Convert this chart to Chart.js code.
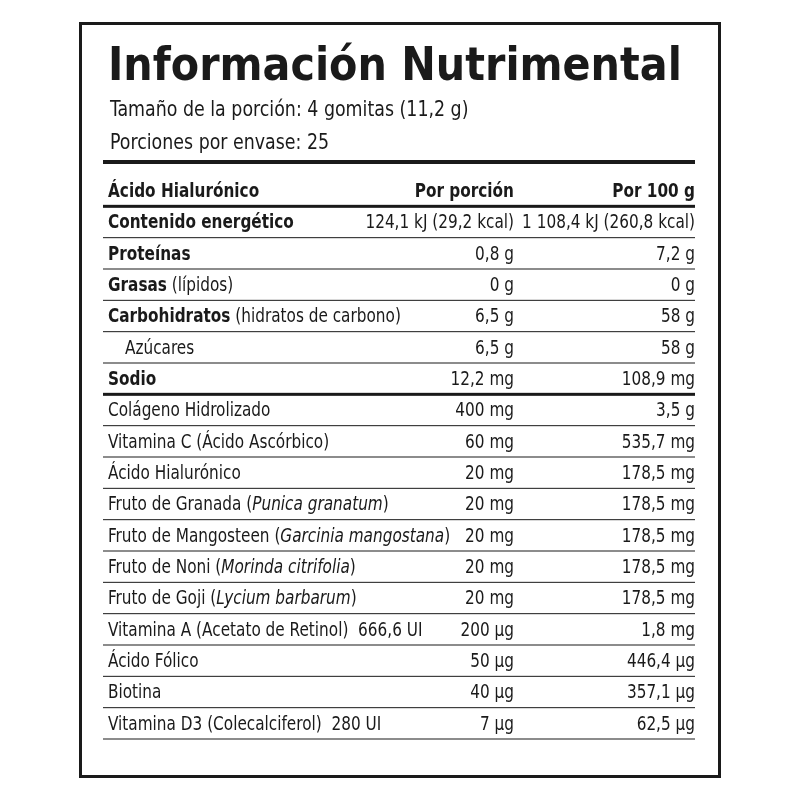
<!DOCTYPE html>
<html><head><meta charset="utf-8">
<script src="https://cdn.jsdelivr.net/npm/chart.js@4"></script>
<style>body{margin:0;background:#fff}</style>
</head><body>
<canvas id="c" width="800" height="800"></canvas>
<script>
// rows: **bold**, _italic_
const rowLabels = [
  "**Ácido Hialurónico**",
  "**Contenido energético**",
  "**Proteínas**",
  "**Grasas** (lípidos)",
  "**Carbohidratos** (hidratos de carbono)",
  "    Azúcares",
  "**Sodio**",
  "Colágeno Hidrolizado",
  "Vitamina C (Ácido Ascórbico)",
  "Ácido Hialurónico",
  "Fruto de Granada (_Punica granatum_)",
  "Fruto de Mangosteen (_Garcinia mangostana_)",
  "Fruto de Noni (_Morinda citrifolia_)",
  "Fruto de Goji (_Lycium barbarum_)",
  "Vitamina A (Acetato de Retinol)  666,6 UI",
  "Ácido Fólico",
  "Biotina",
  "Vitamina D3 (Colecalciferol)  280 UI"
];
const perServing = ["**Por porción**", "124,1 kJ (29,2 kcal)", "0,8 g", "0 g", "6,5 g", "6,5 g", "12,2 mg",
  "400 mg", "60 mg", "20 mg", "20 mg", "20 mg", "20 mg", "20 mg", "200 µg", "50 µg", "40 µg", "7 µg"];
const per100g = ["**Por 100 g**", "1 108,4 kJ (260,8 kcal)", "7,2 g", "0 g", "58 g", "58 g", "108,9 mg",
  "3,5 g", "535,7 mg", "178,5 mg", "178,5 mg", "178,5 mg", "178,5 mg", "178,5 mg", "1,8 mg", "446,4 µg", "357,1 µg", "62,5 µg"];
const thickAfter = [0, 6];

const FAM = '"Liberation Sans Narrow", "DejaVu Sans Condensed", sans-serif';
const SIZE = 20;
const SX = 0.85; // horizontal squeeze to mimic a narrow face

function segments(s) {
  const out = [];
  const re = /(\*\*[^*]+\*\*|_[^_]+_)/g;
  let last = 0, m;
  while ((m = re.exec(s))) {
    if (m.index > last) out.push({t: s.slice(last, m.index), st: ""});
    if (m[0][0] === "*") out.push({t: m[0].slice(2, -2), st: "bold "});
    else out.push({t: m[0].slice(1, -1), st: "italic "});
    last = m.index + m[0].length;
  }
  if (last < s.length) out.push({t: s.slice(last), st: ""});
  return out;
}
function drawRich(ctx, s, x, y, align, size, sx) {
  size = size || SIZE; sx = sx || SX;
  const segs = segments(s);
  let w = 0;
  segs.forEach(g => { ctx.font = g.st + size + "px " + FAM; g.w = ctx.measureText(g.t).width; w += g.w; });
  ctx.save();
  ctx.translate(x, y);
  ctx.scale(sx, 1);
  let cx = align === "right" ? -w : 0;
  segs.forEach(g => { ctx.font = g.st + size + "px " + FAM; ctx.fillText(g.t, cx, 0); cx += g.w; });
  ctx.restore();
}

const tablePlugin = {
  id: "table",
  afterDraw(chart) {
    const ctx = chart.ctx, y = chart.scales.y, a = chart.chartArea;
    const h = y.getPixelForValue(1) - y.getPixelForValue(0);
    ctx.save();
    ctx.fillStyle = "#1a1a1a"; ctx.strokeStyle = "#1a1a1a";
    // border
    ctx.lineWidth = 3; ctx.strokeRect(80.5, 23.5, 639, 753);
    // title
    let ts = 60;
    ctx.font = "bold " + ts + "px " + FAM;
    ts = ts * 574 / ctx.measureText("Información Nutrimental").width;
    ctx.font = "bold " + ts + "px " + FAM;
    ctx.textBaseline = "alphabetic";
    ctx.fillText("Información Nutrimental", 108, 80);
    drawRich(ctx, "Tamaño de la porción: 4 gomitas (11,2 g)", 110, 116, "left", 22, 0.88);
    drawRich(ctx, "Porciones por envase: 25", 110, 149, "left", 22, 0.88);
    ctx.fillRect(a.left, 160, a.right - a.left, 4);
    ctx.textBaseline = "middle";
    rowLabels.forEach((lab, i) => {
      const cy = y.getPixelForValue(i);
      const indent = lab.startsWith("    ") ? 17 : 0;
      drawRich(ctx, lab.trim(), 108 + indent, cy + 1, "left");
      drawRich(ctx, perServing[i], 514, cy + 1, "right");
      drawRich(ctx, per100g[i], 695, cy + 1, "right");
      const ly = cy + h / 2;
      if (thickAfter.includes(i)) ctx.fillRect(a.left, ly - 1.5, a.right - a.left, 3);
      else ctx.fillRect(a.left, ly - 0.5, a.right - a.left, 1);
    });
    ctx.restore();
  }
};

new Chart(document.getElementById("c"), {
  type: "bar",
  data: { labels: rowLabels, datasets: [{ data: rowLabels.map(() => 0), backgroundColor: "rgba(0,0,0,0)" }] },
  options: {
    indexAxis: "y", responsive: false, animation: false,
    layout: { padding: { top: 175, bottom: 61, left: 103, right: 105 } },
    scales: { y: { display: false }, x: { display: false, min: 0, max: 1 } },
    plugins: { legend: { display: false }, tooltip: { enabled: false } }
  },
  plugins: [tablePlugin]
});
</script>
</body></html>
